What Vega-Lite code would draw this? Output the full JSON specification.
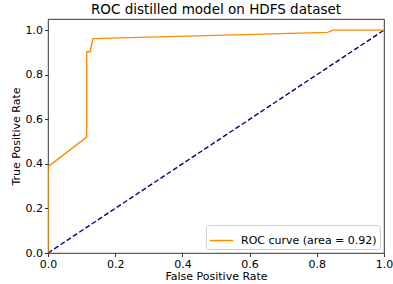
{
  "$schema": "https://vega.github.io/schema/vega-lite/v6.json",
  "width": 336,
  "height": 234,
  "autosize": {"type": "none"},
  "padding": {"left": 48, "top": 19, "right": 9, "bottom": 31},
  "background": "white",
  "config": {
    "font": "DejaVu Sans",
    "view": {"stroke": "black", "strokeWidth": 0.8},
    "axis": {
      "grid": false,
      "domain": false,
      "tickColor": "black",
      "tickSize": 3.5,
      "tickWidth": 0.8,
      "labelFlush": false,
      "labelFont": "DejaVu Sans",
      "labelFontSize": 11,
      "labelColor": "black",
      "titleFont": "DejaVu Sans",
      "titleFontSize": 11,
      "titleFontWeight": "normal",
      "titleColor": "black",
      "labelPadding": 2
    },
    "title": {"font": "DejaVu Sans", "fontSize": 13.5, "fontWeight": "normal", "color": "black"}
  },
  "title": {"text": "ROC distilled model on HDFS dataset", "offset": 3},
  "layer": [
    {
      "data": {"values": [
        {"fpr": 0.0, "tpr": 0.0},
        {"fpr": 1.0, "tpr": 1.0}
      ]},
      "mark": {"type": "line", "color": "navy", "strokeWidth": 1.4, "strokeDash": [5, 2.5], "clip": true},
      "encoding": {
        "x": {"field": "fpr", "type": "quantitative"},
        "y": {"field": "tpr", "type": "quantitative"}
      }
    },
    {
      "data": {"values": [
        {"fpr": 0.0, "tpr": 0.0, "s": "ROC curve (area = 0.92)", "o": 0},
        {"fpr": 0.0, "tpr": 0.387, "s": "ROC curve (area = 0.92)", "o": 1},
        {"fpr": 0.115, "tpr": 0.52, "s": "ROC curve (area = 0.92)", "o": 2},
        {"fpr": 0.115, "tpr": 0.903, "s": "ROC curve (area = 0.92)", "o": 3},
        {"fpr": 0.125, "tpr": 0.903, "s": "ROC curve (area = 0.92)", "o": 4},
        {"fpr": 0.134, "tpr": 0.962, "s": "ROC curve (area = 0.92)", "o": 5},
        {"fpr": 0.832, "tpr": 0.99, "s": "ROC curve (area = 0.92)", "o": 6},
        {"fpr": 0.848, "tpr": 1.0, "s": "ROC curve (area = 0.92)", "o": 7},
        {"fpr": 1.0, "tpr": 1.0, "s": "ROC curve (area = 0.92)", "o": 8}
      ]},
      "mark": {"type": "line", "strokeWidth": 1.4, "clip": true},
      "encoding": {
        "x": {"field": "fpr", "type": "quantitative",
              "scale": {"domain": [0, 1], "nice": false, "zero": false},
              "axis": {"title": "False Positive Rate", "values": [0, 0.2, 0.4, 0.6, 0.8, 1.0], "format": ".1f", "titlePadding": 1}},
        "y": {"field": "tpr", "type": "quantitative",
              "scale": {"domain": [0, 1.05], "nice": false, "zero": false},
              "axis": {"title": "True Positive Rate", "values": [0, 0.2, 0.4, 0.6, 0.8, 1.0], "format": ".1f", "titlePadding": 4}},
        "order": {"field": "o"},
        "color": {"field": "s", "type": "nominal",
                  "scale": {"domain": ["ROC curve (area = 0.92)"], "range": ["darkorange"]},
                  "legend": {"title": null, "orient": "bottom-right", "symbolType": "stroke", "symbolSize": 550, "symbolStrokeWidth": 1.4,
                             "labelFontSize": 11, "labelFont": "DejaVu Sans", "labelColor": "black", "labelOffset": 7,
                             "strokeColor": "#d0d0d0", "fillColor": "white", "padding": 3, "cornerRadius": 3, "offset": 4}}
      }
    }
  ]
}
